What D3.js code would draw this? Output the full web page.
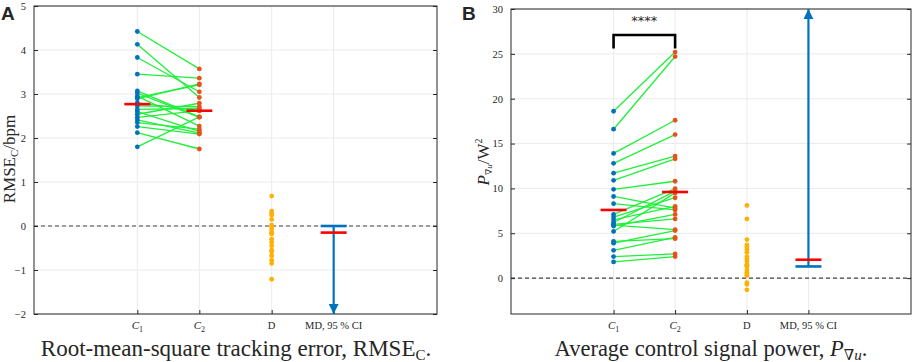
<!DOCTYPE html>
<html>
<head>
<meta charset="utf-8">
<script src="https://cdn.jsdelivr.net/npm/d3@7"></script>
<style>
  body { margin: 0; background: #fff; }
  svg { display: block; }
  text { font-family: 'Liberation Serif', 'DejaVu Serif', serif; fill: #262626; }
</style>
</head>
<body>
<svg></svg>
<script>
const w = 913
const h = 362

// categories on the x axis
const categories = ['C1', 'C2', 'D', 'MD, 95 % CI']

// panel A: RMSE per subject, condition C1 and C2 (paired by index)
const rmseC1 = [4.42, 4.13, 3.83, 3.45, 1.80, 2.12, 3.07, 2.92, 2.89, 2.54, 2.47, 2.65, 2.73, 2.80, 2.41, 2.95, 3.02, 2.35, 2.26, 2.60]
const rmseC2 = [3.57, 2.92, 3.05, 3.36, 2.48, 1.75, 2.48, 3.21, 3.23, 2.79, 2.62, 2.67, 2.71, 2.62, 2.11, 2.27, 2.47, 2.20, 2.09, 2.15]
const rmseMeans = [2.77, 2.62]
const rmseMD = -0.15
const rmseCI = [-2, 0]
const rmseTicks = [-2, -1, 0, 1, 2, 3, 4, 5]

// panel B: control signal power per subject
const powC1 = [18.6, 16.6, 13.9, 12.8, 11.7, 10.9, 9.9, 9.1, 8.3, 7.1, 6.8, 6.5, 6.2, 5.9, 5.8, 5.2, 6.0, 4.1, 3.9, 3.1, 2.4, 1.8]
const powC2 = [25.2, 24.7, 17.6, 16.0, 13.6, 13.3, 10.8, 7.8, 7.6, 9.97, 8.96, 8.0, 9.7, 5.4, 7.1, 9.5, 6.6, 4.4, 5.3, 4.55, 2.7, 2.4]
const powMeans = [7.6, 9.6]
const powMD = 2.05
const powCI = [1.3, 30]
const powTicks = [0, 5, 10, 15, 20, 25, 30]

const catPos = [1, 1.6, 2.3, 2.9]

const svg = d3.select('svg')
  .attr('width', w)
  .attr('height', h)

const colC1 = '#0072BD'
const colC2 = '#E5531A'
const colD = '#FFB000'
const colLine = '#1FF03A'
const colMean = '#FF0000'
const colCI = '#0072BD'

svg.append('defs').append('marker')
  .attr('id', 'head')
  .attr('viewBox', '0 0 10 10')
  .attr('refX', 10).attr('refY', 5)
  .attr('markerWidth', 4.5).attr('markerHeight', 5.5)
  .attr('markerUnits', 'strokeWidth')
  .attr('orient', 'auto')
  .append('path').attr('d', 'M0,0 L10,5 L0,10 Z').attr('fill', colCI)

const drawPanel = p => {
  const c1 = p.c1, c2 = p.c2
  const diff = c1.map((v, i) => c2[i] - v)

  const x = d3.scaleLinear().domain([0, 3.9]).range([p.x0, p.x1])
  const y = d3.scaleLinear().domain(p.domain).range([p.y1, p.y0])

  const g = svg.append('g')

  // grid
  g.selectAll('.hg').data(p.ticks).enter().append('line')
    .attr('x1', p.x0).attr('x2', p.x1)
    .attr('y1', d => y(d)).attr('y2', d => y(d))
    .attr('stroke', '#ebebeb')
  g.selectAll('.vg').data(catPos).enter().append('line')
    .attr('x1', d => x(d)).attr('x2', d => x(d))
    .attr('y1', p.y0).attr('y2', p.y1)
    .attr('stroke', '#ebebeb')

  // zero line
  g.append('line')
    .attr('x1', p.x0).attr('x2', p.x1)
    .attr('y1', y(0)).attr('y2', y(0))
    .attr('stroke', '#444').attr('stroke-width', 1.1)
    .attr('stroke-dasharray', '4,3')

  // axes (MATLAB-style box with inward ticks)
  const yAxisL = d3.axisLeft(y).tickValues(p.ticks).tickSize(-4).tickPadding(8).tickFormat(d3.format('d'))
  const yAxisR = d3.axisRight(y).tickValues(p.ticks).tickSize(-4).tickFormat('')
  const xAxisB = d3.axisBottom(x).tickValues(catPos).tickSize(-4).tickFormat('')
  const yl = g.append('g').attr('transform', `translate(${p.x0},0)`).call(yAxisL)
  g.append('g').attr('transform', `translate(${p.x1},0)`).call(yAxisR)
  g.append('g').attr('transform', `translate(0,${p.y1})`).call(xAxisB)
  g.selectAll('.domain').remove()
  g.selectAll('.tick line').attr('stroke', '#262626')
  yl.attr('font-family', null).attr('font-size', 10.5)
  yl.selectAll('text').attr('fill', '#262626')
  g.append('rect')
    .attr('x', p.x0).attr('y', p.y0)
    .attr('width', p.x1 - p.x0).attr('height', p.y1 - p.y0)
    .attr('fill', 'none').attr('stroke', '#262626').attr('stroke-width', 1)

  // x tick labels
  const lab = g.append('g').attr('font-size', 11)
  categories.forEach((c, i) => {
    const t = lab.append('text').attr('x', x(catPos[i])).attr('y', p.y1 + 15)
      .attr('text-anchor', 'middle')
    if (c[0] === 'C') {
      t.append('tspan').attr('font-style', 'italic').text('C')
      t.append('tspan').attr('font-size', 8).attr('dy', 3).text(c.slice(1))
    } else {
      t.attr('font-size', 10.5).text(c)
    }
  })

  // paired lines
  g.selectAll('.pair').data(c1).enter().append('line')
    .attr('x1', x(catPos[0])).attr('x2', x(catPos[1]))
    .attr('y1', d => y(d)).attr('y2', (d, i) => y(c2[i]))
    .attr('stroke', colLine).attr('stroke-width', 1.3)

  g.selectAll('.c1').data(c1).enter().append('circle')
    .attr('cx', x(catPos[0])).attr('cy', d => y(d)).attr('r', 2.4).attr('fill', colC1)
  g.selectAll('.c2').data(c2).enter().append('circle')
    .attr('cx', x(catPos[1])).attr('cy', d => y(d)).attr('r', 2.4).attr('fill', colC2)
  g.selectAll('.dd').data(diff).enter().append('circle')
    .attr('cx', x(catPos[2])).attr('cy', d => y(d)).attr('r', 2.4).attr('fill', colD)

  // means
  g.selectAll('.mean').data(p.means).enter().append('line')
    .attr('x1', (d, i) => x(catPos[i]) - 13).attr('x2', (d, i) => x(catPos[i]) + 13)
    .attr('y1', d => y(d)).attr('y2', d => y(d))
    .attr('stroke', colMean).attr('stroke-width', 2.6)

  // mean difference with CI arrow
  const mx = x(catPos[3])
  const capV = p.arrowUp ? p.ci[0] : p.ci[1]
  const tipV = p.arrowUp ? p.ci[1] : p.ci[0]
  g.append('line')
    .attr('x1', mx).attr('x2', mx)
    .attr('y1', y(capV)).attr('y2', y(tipV))
    .attr('stroke', colCI).attr('stroke-width', 2.2)
    .attr('marker-end', 'url(#head)')
  g.append('line')
    .attr('x1', mx - 13).attr('x2', mx + 13)
    .attr('y1', y(capV)).attr('y2', y(capV))
    .attr('stroke', colCI).attr('stroke-width', 2.6)
  g.append('line')
    .attr('x1', mx - 13).attr('x2', mx + 13)
    .attr('y1', y(p.md)).attr('y2', y(p.md))
    .attr('stroke', colMean).attr('stroke-width', 2.6)

  // panel letter
  g.append('text').attr('x', p.letterX).attr('y', 20)
    .style('font-family', "'Liberation Sans', Arial, sans-serif")
    .attr('font-weight', 'bold').attr('font-size', 19).attr('fill', '#000')
    .text(p.letter)

  return { g, x, y }
}

// panel A
const A = drawPanel({
  c1: rmseC1, c2: rmseC2, means: rmseMeans, md: rmseMD, ci: rmseCI, arrowUp: false,
  domain: [-2, 5], ticks: rmseTicks,
  x0: 34, x1: 437, y0: 6, y1: 314, letter: 'A', letterX: 1
})

const yLabA = A.g.append('text')
  .attr('transform', `translate(15,159) rotate(-90)`)
  .attr('text-anchor', 'middle').attr('font-size', 17)
yLabA.append('tspan').text('RMSE')
yLabA.append('tspan').attr('font-size', 11).attr('dy', 3).text('C')
yLabA.append('tspan').attr('dy', -3).text('/bpm')

const xLabA = A.g.append('text')
  .attr('x', 236).attr('y', 356).attr('text-anchor', 'middle').attr('font-size', 23)
xLabA.append('tspan').text('Root-mean-square tracking error, RMSE')
xLabA.append('tspan').attr('font-size', 15).attr('dy', 4).text('C')
xLabA.append('tspan').attr('dy', -4).text('.')

// panel B
const B = drawPanel({
  c1: powC1, c2: powC2, means: powMeans, md: powMD, ci: powCI, arrowUp: true,
  domain: [-4, 30], ticks: powTicks,
  x0: 511, x1: 911, y0: 9, y1: 314, letter: 'B', letterX: 462
})

// significance bracket
const bx1 = B.x(catPos[0]), bx2 = B.x(catPos[1])
B.g.append('path')
  .attr('d', `M${bx1},${B.y(25.6)} V${B.y(27.1)} H${bx2} V${B.y(25.6)}`)
  .attr('fill', 'none').attr('stroke', '#000').attr('stroke-width', 2.6)
B.g.append('text')
  .attr('x', (bx1 + bx2) / 2).attr('y', B.y(28.2))
  .attr('text-anchor', 'middle').attr('font-size', 13)
  .style('font-family', "'DejaVu Sans', sans-serif").attr('fill', '#000')
  .text('****')

const yLabB = B.g.append('text')
  .attr('transform', `translate(489,162) rotate(-90)`)
  .attr('text-anchor', 'middle').attr('font-size', 17)
yLabB.append('tspan').attr('font-style', 'italic').text('P')
yLabB.append('tspan').attr('font-size', 9).attr('dy', 3).text('∇')
yLabB.append('tspan').attr('font-size', 9).attr('font-style', 'italic').text('u')
yLabB.append('tspan').attr('dy', -3).text('/W')
yLabB.append('tspan').attr('font-size', 10).attr('dy', -7).text('2')

const xLabB = B.g.append('text')
  .attr('x', 711).attr('y', 356).attr('text-anchor', 'middle').attr('font-size', 22.5)
xLabB.append('tspan').text('Average control signal power, ')
xLabB.append('tspan').attr('font-style', 'italic').text('P')
xLabB.append('tspan').attr('font-size', 15).attr('dy', 4).text('∇')
xLabB.append('tspan').attr('font-size', 15).attr('font-style', 'italic').text('u')
xLabB.append('tspan').attr('dy', -4).text('.')
</script>
</body>
</html>
